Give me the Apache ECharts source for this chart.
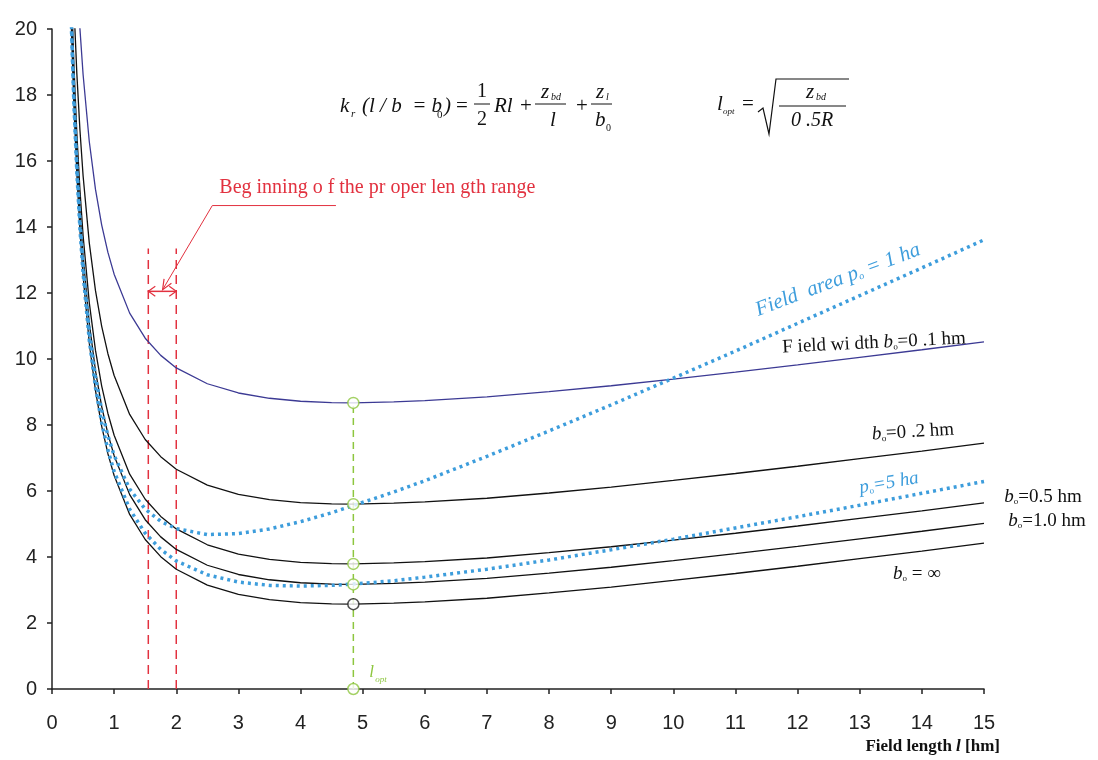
<!DOCTYPE html>
<html><head><meta charset="utf-8">
<script src="https://cdn.jsdelivr.net/npm/echarts@6/dist/echarts.min.js"></script>
<style>html,body{margin:0;padding:0;background:#fff}#c{width:1098px;height:760px}</style>
</head><body><div id="c"></div>
<script>
// ---- data ----
const fieldLength = [0.3,0.35,0.4,0.45,0.5,0.6,0.7,0.8,0.9,1,1.25,1.5,1.75,2,2.5,3,3.5,4,4.5,4.85,5.5,6,7,8,9,10,11,12,13,14,15];
const kInf  = [20.75,17.81,15.61,13.90,12.53,10.49,9.04,7.96,7.13,6.47,5.29,4.53,4.01,3.63,3.15,2.87,2.71,2.62,2.58,2.57,2.60,2.64,2.75,2.91,3.09,3.29,3.50,3.72,3.95,4.18,4.42];
const kB10  = [21.35,18.41,16.21,14.50,13.13,11.09,9.64,8.56,7.73,7.07,5.89,5.13,4.61,4.23,3.75,3.47,3.31,3.22,3.18,3.17,3.20,3.24,3.35,3.51,3.69,3.89,4.10,4.32,4.55,4.78,5.02];
const kB05  = [21.97,19.03,16.83,15.12,13.75,11.71,10.26,9.18,8.35,7.69,6.51,5.75,5.23,4.85,4.37,4.09,3.93,3.84,3.80,3.79,3.82,3.86,3.97,4.13,4.31,4.51,4.72,4.94,5.17,5.40,5.64];
const kB02  = [23.78,20.84,18.64,16.93,15.56,13.52,12.07,10.99,10.16,9.50,8.32,7.56,7.04,6.66,6.18,5.90,5.74,5.65,5.61,5.60,5.63,5.67,5.78,5.94,6.12,6.32,6.53,6.75,6.98,7.21,7.45];
const kB01  = [26.85,23.91,21.71,20.00,18.63,16.59,15.14,14.06,13.23,12.57,11.39,10.63,10.11,9.73,9.25,8.97,8.81,8.72,8.68,8.67,8.70,8.74,8.85,9.01,9.19,9.39,9.60,9.82,10.05,10.28,10.52];
const kP1   = [20.93,18.02,15.85,14.17,12.84,10.86,9.47,8.45,7.68,7.08,6.06,5.45,5.08,4.86,4.68,4.71,4.85,5.07,5.34,5.56,5.97,6.31,7.05,7.82,8.61,9.42,10.24,11.08,11.92,12.76,13.61];
const kP5   = [20.78,17.85,15.66,13.95,12.60,10.57,9.13,8.06,7.24,6.59,5.45,4.72,4.23,3.88,3.46,3.24,3.14,3.12,3.14,3.18,3.28,3.39,3.63,3.91,4.22,4.54,4.88,5.22,5.57,5.93,6.29];
const lOpt = 4.85;            // optimum length
const properRange = [1.55, 2.0]; // beginning of the proper length range
const rangeTop = 13.35;
const arrowLevel = 12.05;
const leader = [[1.78, 12.1], [2.58, 14.65], [4.57, 14.65]];

const idx = fieldLength.indexOf(lOpt);
const pairs = ys => fieldLength.map((x, i) => [x, ys[i]]);

const BLUE = '#3d9ddc', GREEN = '#8dc63f', RED = '#e2313f', PURPLE = '#3c3a94';
const SANS = 'Liberation Sans', SERIF = 'Liberation Serif';

const chart = echarts.init(document.getElementById('c'), null, {renderer: 'canvas'});

function solid(name, ys, color, w) {
  return {name, type: 'line', data: pairs(ys), showSymbol: false, symbol: 'none', smooth: false,
    lineStyle: {color, width: w}, z: 2, clip: true};
}
function dotted(name, ys) {
  return {name, type: 'line', data: pairs(ys), showSymbol: false, symbol: 'none', smooth: false,
    lineStyle: {color: BLUE, width: 3.5, type: [3, 4]}, z: 3, clip: true};
}
const vline = (x, top, color, dash, w) => ({type: 'line', data: [[x, 0], [x, top]], symbol: 'none',
  lineStyle: {color, width: w, type: dash}, z: 1, silent: true});

const axisCommon = {
  axisLine: {show: true, lineStyle: {color: '#222', width: 1.5}},
  axisTick: {show: true, inside: false, length: 5, lineStyle: {color: '#222', width: 1.5}},
  splitLine: {show: false},
  axisLabel: {color: '#222', fontSize: 20, fontFamily: SANS}
};

chart.setOption({
  animation: false,
  backgroundColor: '#fff',
  grid: {left: 52, right: 114, top: 29, bottom: 71, containLabel: false},
  xAxis: Object.assign({type: 'value', min: 0, max: 15, interval: 1}, axisCommon,
    {axisLabel: Object.assign({}, axisCommon.axisLabel, {margin: 24})}),
  yAxis: Object.assign({type: 'value', min: 0, max: 20, interval: 2}, axisCommon,
    {axisLabel: Object.assign({}, axisCommon.axisLabel, {margin: 15})}),
  series: [
    vline(properRange[0], rangeTop, RED, [9, 6], 1.5),
    vline(properRange[1], rangeTop, RED, [9, 6], 1.5),
    vline(lOpt, kB01[idx], GREEN, [7, 5], 1.5),
    solid('b0=∞', kInf, '#111', 1.3),
    solid('b0=1.0', kB10, '#111', 1.3),
    solid('b0=0.5', kB05, '#111', 1.3),
    solid('b0=0.2', kB02, '#111', 1.3),
    solid('b0=0.1', kB01, PURPLE, 1.3),
    dotted('p=1', kP1),
    dotted('p=5', kP5),
    {type: 'scatter', symbol: 'circle', symbolSize: 11, z: 6,
      data: [[lOpt, 0], [lOpt, kB10[idx]], [lOpt, kB05[idx]], [lOpt, kB02[idx]], [lOpt, kB01[idx]]],
      itemStyle: {color: '#fff', borderColor: GREEN, borderWidth: 1.5}},
    {type: 'scatter', symbol: 'circle', symbolSize: 11, z: 6,
      data: [[lOpt, kInf[idx]]],
      itemStyle: {color: '#fff', borderColor: '#222', borderWidth: 1.5}}
  ]
});

// ---- annotations ----
const px = p => chart.convertToPixel({gridIndex: 0}, p);
const g = [];
function txt(x, y, text, o) {
  o = o || {};
  g.push({type: 'text', x, y, rotation: o.rot || 0, z: 20, style: {
    text, fill: o.color || '#111', fontSize: o.size || 20, fontFamily: o.font || SERIF,
    fontStyle: o.italic ? 'italic' : 'normal', fontWeight: o.bold ? 'bold' : 'normal',
    textAlign: o.align || 'left', textVerticalAlign: 'middle', rich: o.rich}});
}
function ln(pts, color, w) {
  g.push({type: 'polyline', z: 20, shape: {points: pts}, style: {stroke: color, lineWidth: w || 1, fill: null}});
}

// dimension line with arrowheads
const a0 = px([properRange[0], arrowLevel]), a1 = px([properRange[1], arrowLevel]);
ln([a0, a1], RED, 1.5);
ln([[a0[0] + 7, a0[1] - 5], a0, [a0[0] + 7, a0[1] + 5]], RED, 1.2);
ln([[a1[0] - 7, a1[1] - 5], a1, [a1[0] - 7, a1[1] + 5]], RED, 1.2);
// leader with arrow
const L = leader.map(px);
ln(L, RED, 1);
{
  const t = L[0], f = L[1];
  const ang = Math.atan2(t[1] - f[1], t[0] - f[0]);
  const h = 11, s = 0.4;
  ln([[t[0] - h * Math.cos(ang - s), t[1] - h * Math.sin(ang - s)], t,
      [t[0] - h * Math.cos(ang + s), t[1] - h * Math.sin(ang + s)]], RED, 1.2);
}
txt(L[1][0] + 7, L[1][1] - 18, 'Beg inning o f the pr oper len gth range', {color: RED, size: 20});

// l_opt label
const lo = px([lOpt, 0]);
txt(lo[0] + 16, lo[1] - 16, 'l', {color: GREEN, size: 17, italic: true});
txt(lo[0] + 22, lo[1] - 9, 'opt', {color: GREEN, size: 9, italic: true});

// curve labels
txt(838, 280, '{a|Field  area p}{s|o}{a| = 1 ha}', {color: BLUE, rot: 0.36, align: 'center',
  rich: {a: {fontSize: 21, fontFamily: SERIF, fontStyle: 'italic', fill: BLUE},
         s: {fontSize: 10, fontFamily: SERIF, fontStyle: 'italic', fill: BLUE, padding: [10, 0, 0, 0]}}});
const blk = {a: {fontSize: 19, fontFamily: SERIF, fill: '#111'},
             b: {fontSize: 19, fontFamily: SERIF, fontStyle: 'italic', fill: '#111'},
             s: {fontSize: 9, fontFamily: SERIF, fill: '#111', padding: [10, 0, 0, 0]}};
txt(874, 343, '{a|F ield wi dth }{b|b}{s|o}{a|=0 .1 hm}', {rot: 0.05, align: 'center', rich: blk});
txt(913, 432, '{b|b}{s|o}{a|=0 .2 hm}', {rot: 0.06, align: 'center', rich: blk});
txt(889, 483, '{a|p}{s|o}{a|=5 ha}', {rot: 0.17, align: 'center',
  rich: {a: {fontSize: 19, fontFamily: SERIF, fontStyle: 'italic', fill: BLUE},
         s: {fontSize: 9, fontFamily: SERIF, fill: BLUE, padding: [10, 0, 0, 0]}}});
txt(1043, 497, '{b|b}{s|o}{a|=0.5 hm}', {align: 'center', rich: blk});
txt(1047, 521, '{b|b}{s|o}{a|=1.0 hm}', {align: 'center', rich: blk});
txt(917, 574, '{b|b}{s|o}{a| = ∞}', {align: 'center', rich: blk});

// axis title
txt(1000, 747, '{a|Field length }{b|l}{a| [hm]}', {align: 'right',
  rich: {a: {fontSize: 17, fontFamily: SERIF, fontWeight: 'bold', fill: '#111'},
         b: {fontSize: 17, fontFamily: SERIF, fontWeight: 'bold', fontStyle: 'italic', fill: '#111'}}});

// formulas
const fi = {italic: true, size: 21};
txt(340, 106, 'k', fi);
txt(351, 114, 'r', {italic: true, size: 11});
txt(362, 106, '(l / b  = b', fi);
txt(437, 115, '0', {size: 11});
txt(444, 106, ')', fi);
txt(456, 106, '=', {size: 21});
txt(482, 92, '1', {size: 20, align: 'center'});
ln([[474, 104], [490, 104]], '#111', 1);
txt(482, 120, '2', {size: 20, align: 'center'});
txt(494, 106, 'Rl', fi);
txt(520, 106, '+', {size: 21});
txt(541, 92, 'z', fi);
txt(551, 97, 'bd', {italic: true, size: 10});
ln([[535, 104], [566, 104]], '#111', 1);
txt(550, 120, 'l', fi);
txt(576, 106, '+', {size: 21});
txt(596, 92, 'z', fi);
txt(606, 97, 'l', {italic: true, size: 10});
ln([[591, 104], [612, 104]], '#111', 1);
txt(595, 120, 'b', fi);
txt(606, 128, '0', {size: 10});
txt(717, 104, 'l', fi);
txt(723, 112, 'opt', {italic: true, size: 9});
txt(742, 104, '=', {size: 21});
ln([[758, 112], [763, 108], [769, 134], [776, 79], [849, 79]], '#111', 1.2);
txt(806, 92, 'z', fi);
txt(816, 97, 'bd', {italic: true, size: 10});
ln([[779, 106], [846, 106]], '#111', 1);
txt(812, 121, '0 .5R', {italic: true, size: 20, align: 'center'});

chart.setOption({graphic: {elements: g}});
</script>
</body></html>
